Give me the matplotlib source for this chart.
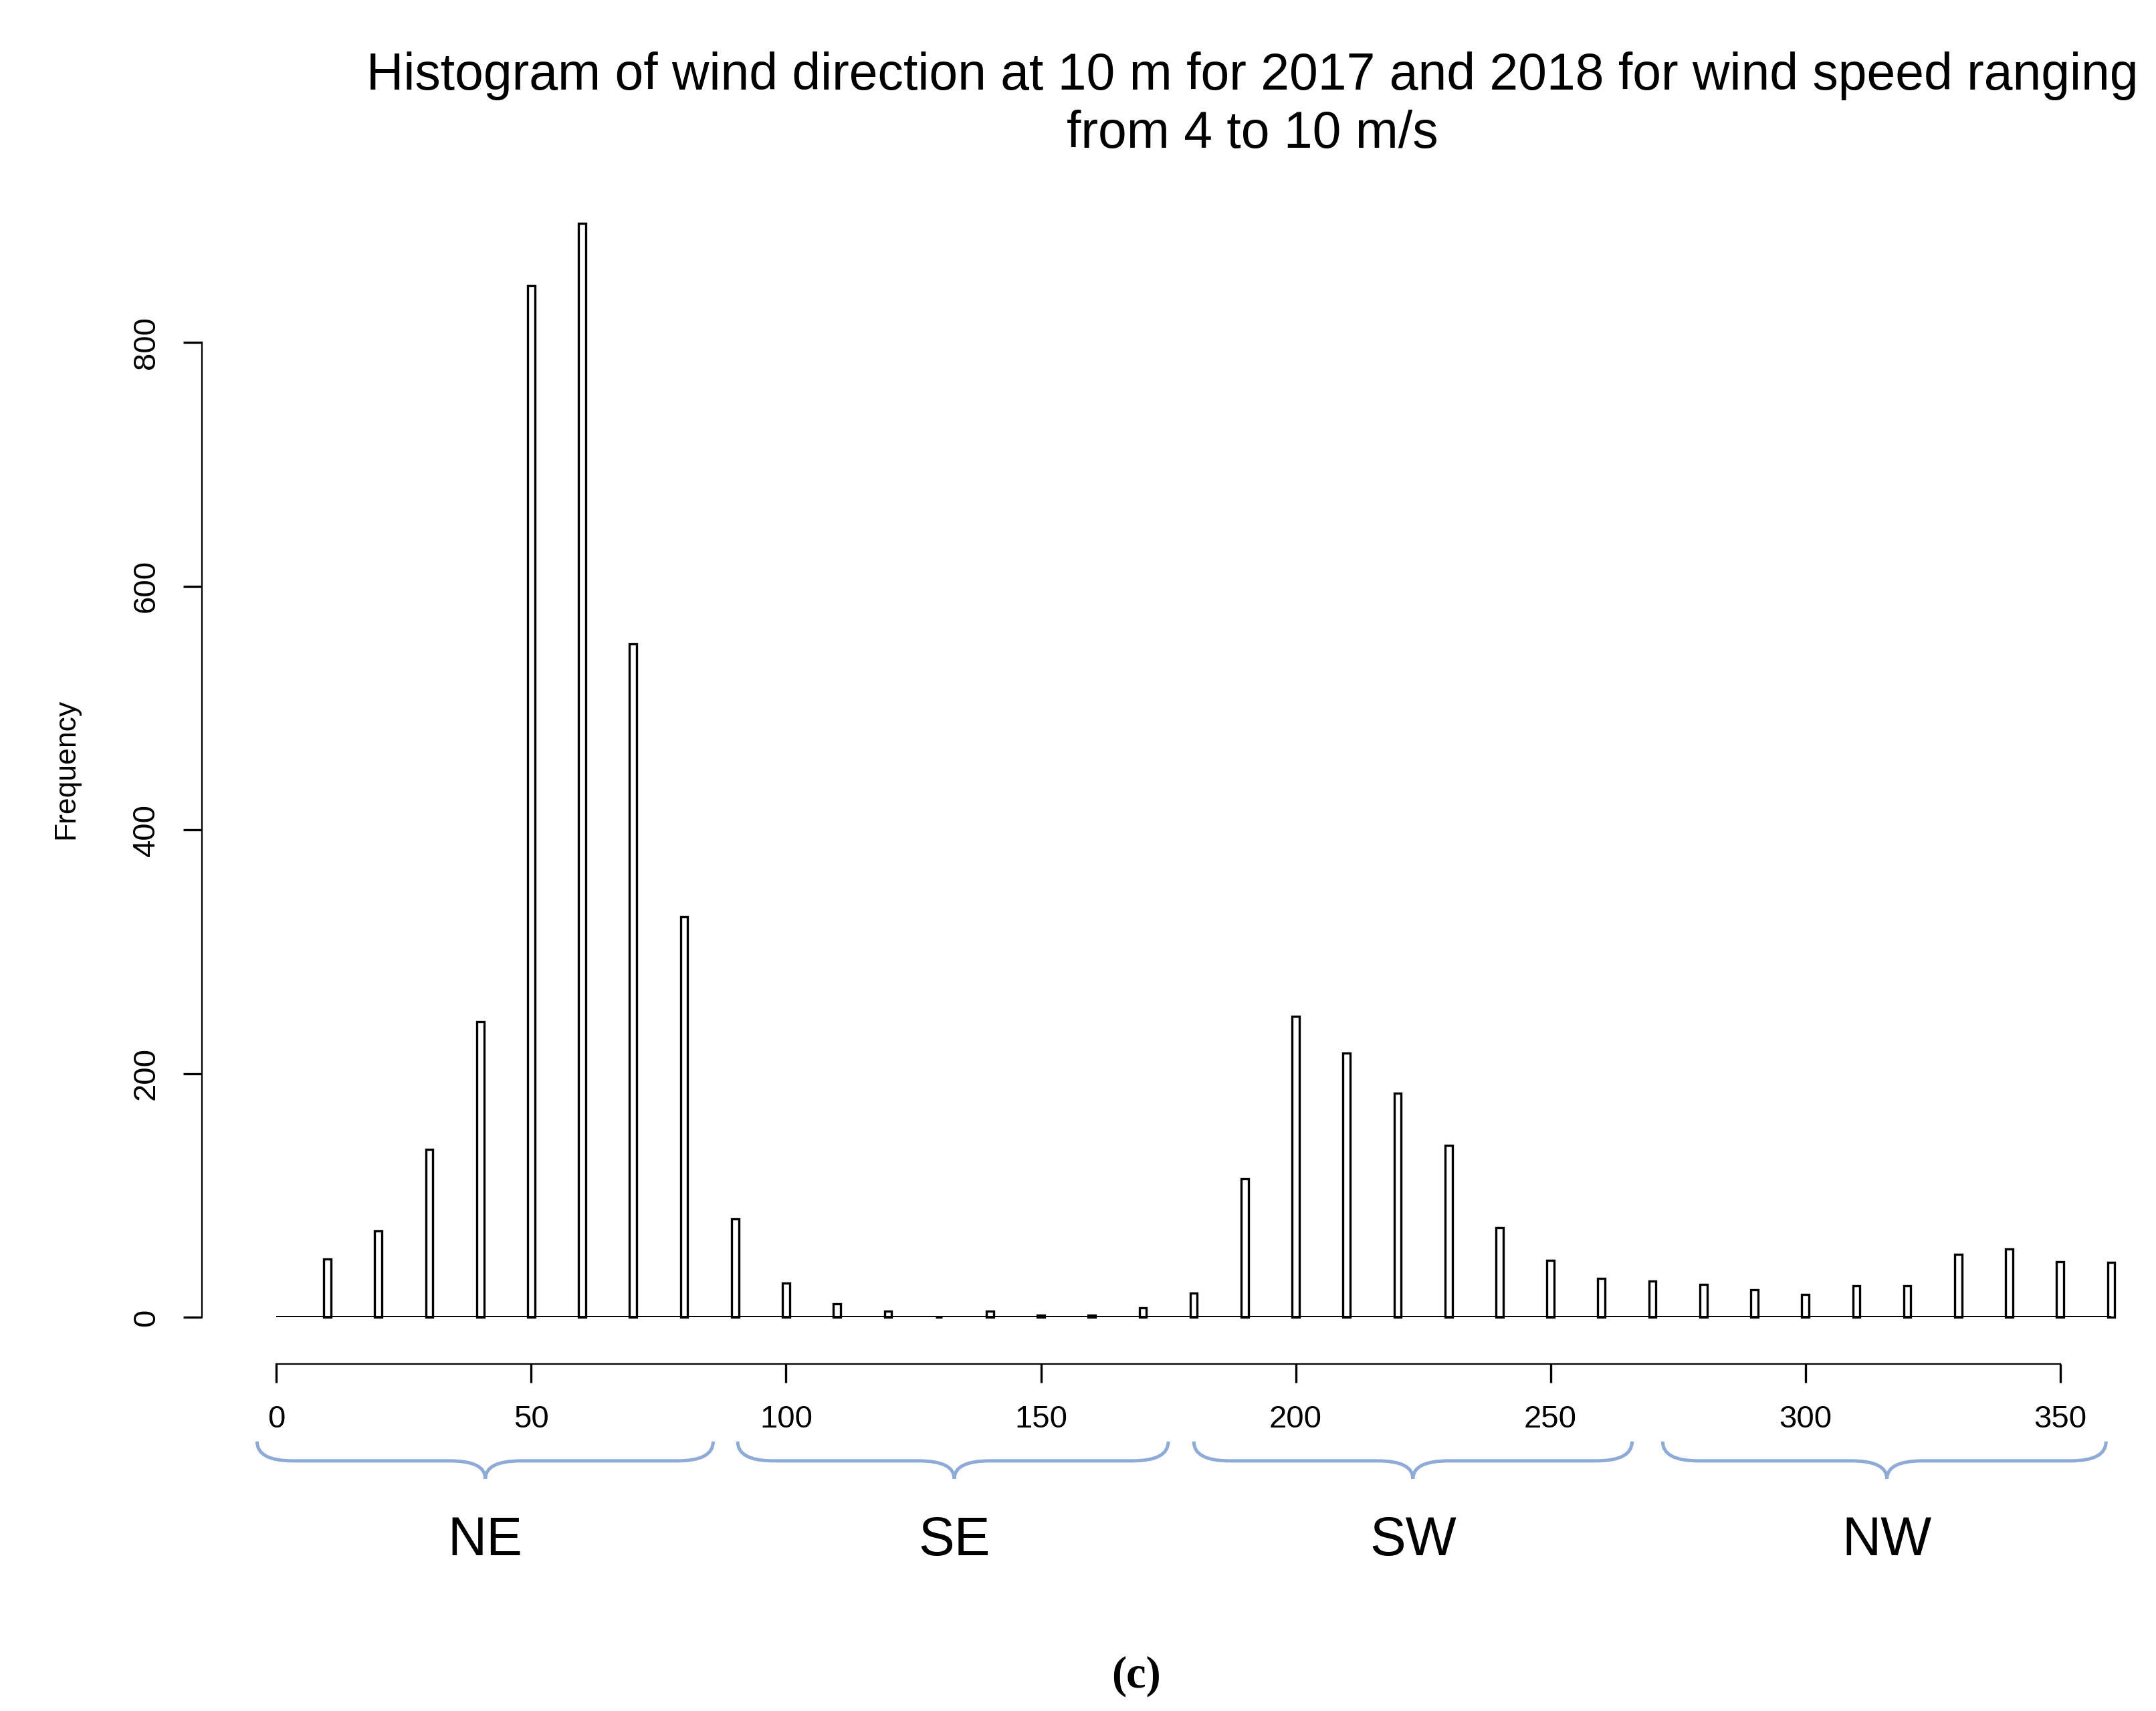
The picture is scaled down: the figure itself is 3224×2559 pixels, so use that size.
import matplotlib
matplotlib.use("Agg")
import matplotlib.pyplot as plt
from matplotlib.path import Path
from matplotlib.patches import PathPatch
import matplotlib.transforms as mtrans

directions = list(range(10, 361, 10))
freq = [48, 71, 138, 243, 847, 898, 553, 329, 81, 28, 11, 5, 0, 5, 2, 2, 8, 20,
        114, 247, 217, 184, 141, 74, 47, 32, 30, 27, 23, 19, 26, 26, 52, 56, 46, 45]
sectors = ["NE", "SE", "SW", "NW"]
brace_x = [(-3.8, 85.7, 41), (90.5, 175, 133), (180, 266, 223), (272, 359, 316)]

plt.rcParams['font.family'] = ['Liberation Sans', 'DejaVu Sans']
W, H = 3224, 2559
fig = plt.figure(figsize=(W/200, H/200), dpi=200)
ax = fig.add_axes([0.0937, 0.230, 0.8855, 0.641])
ax.set_xlim(-14.6, 360)
ax.set_ylim(0, 900)
ax.bar(directions, freq, width=1.4, color='white', edgecolor='black', linewidth=1.2, clip_on=False)
ax.hlines(0, 0, 360, color='black', linewidth=1.4)
for s in ['top', 'right']:
    ax.spines[s].set_visible(False)
ax.spines['left'].set_bounds(0, 800)
ax.spines['bottom'].set_bounds(0, 350)
ax.spines['bottom'].set_position(('outward', 25))
ax.set_yticks([0, 200, 400, 600, 800])
ax.set_yticklabels(['0', '200', '400', '600', '800'], rotation=90, va='center')
ax.set_xticks([0, 50, 100, 150, 200, 250, 300, 350])
ax.tick_params(labelsize=17, length=10, width=1.2, pad=12)
ax.set_ylabel('Frequency', fontsize=16, labelpad=28)

tr = mtrans.blended_transform_factory(ax.transData, fig.transFigure)
ytop, ymid, ytip = 1 - 1043/1238, 1 - 1057/1238, 1 - 1070/1238
for (x0, x1, xt), lab in zip(brace_x, sectors):
    d = 3.5
    verts = [(x0, ytop), (x0, ymid), (x0 + d*2, ymid),
             (xt - d*2, ymid), (xt, ymid), (xt, ytip),
             (xt, ymid), (xt + d*2, ymid),
             (x1 - d*2, ymid), (x1, ymid), (x1, ytop)]
    codes = [Path.MOVETO, Path.CURVE3, Path.CURVE3,
             Path.LINETO, Path.CURVE3, Path.CURVE3,
             Path.CURVE3, Path.CURVE3,
             Path.LINETO, Path.CURVE3, Path.CURVE3]
    fig.add_artist(PathPatch(Path(verts, codes), transform=tr, fill=False,
                             edgecolor='#8eaad6', linewidth=1.8))
    fig.text(xt, 1 - 1115/1238, lab, transform=tr, ha='center', va='center', fontsize=29)

fig.text(0.581, 1 - 55/1238, 'Histogram of wind direction at 10 m for 2017 and 2018 for wind speed ranging',
         ha='center', va='center', fontsize=27.7)
fig.text(0.581, 1 - 97/1238, 'from 4 to 10 m/s', ha='center', va='center', fontsize=27.7)
fig.text(822/1560, 1 - 1213/1238, '(c)', ha='center', va='center', fontsize=24,
         family=['Liberation Serif', 'DejaVu Serif'], fontweight='bold')
fig.savefig('out.png', dpi=200)
